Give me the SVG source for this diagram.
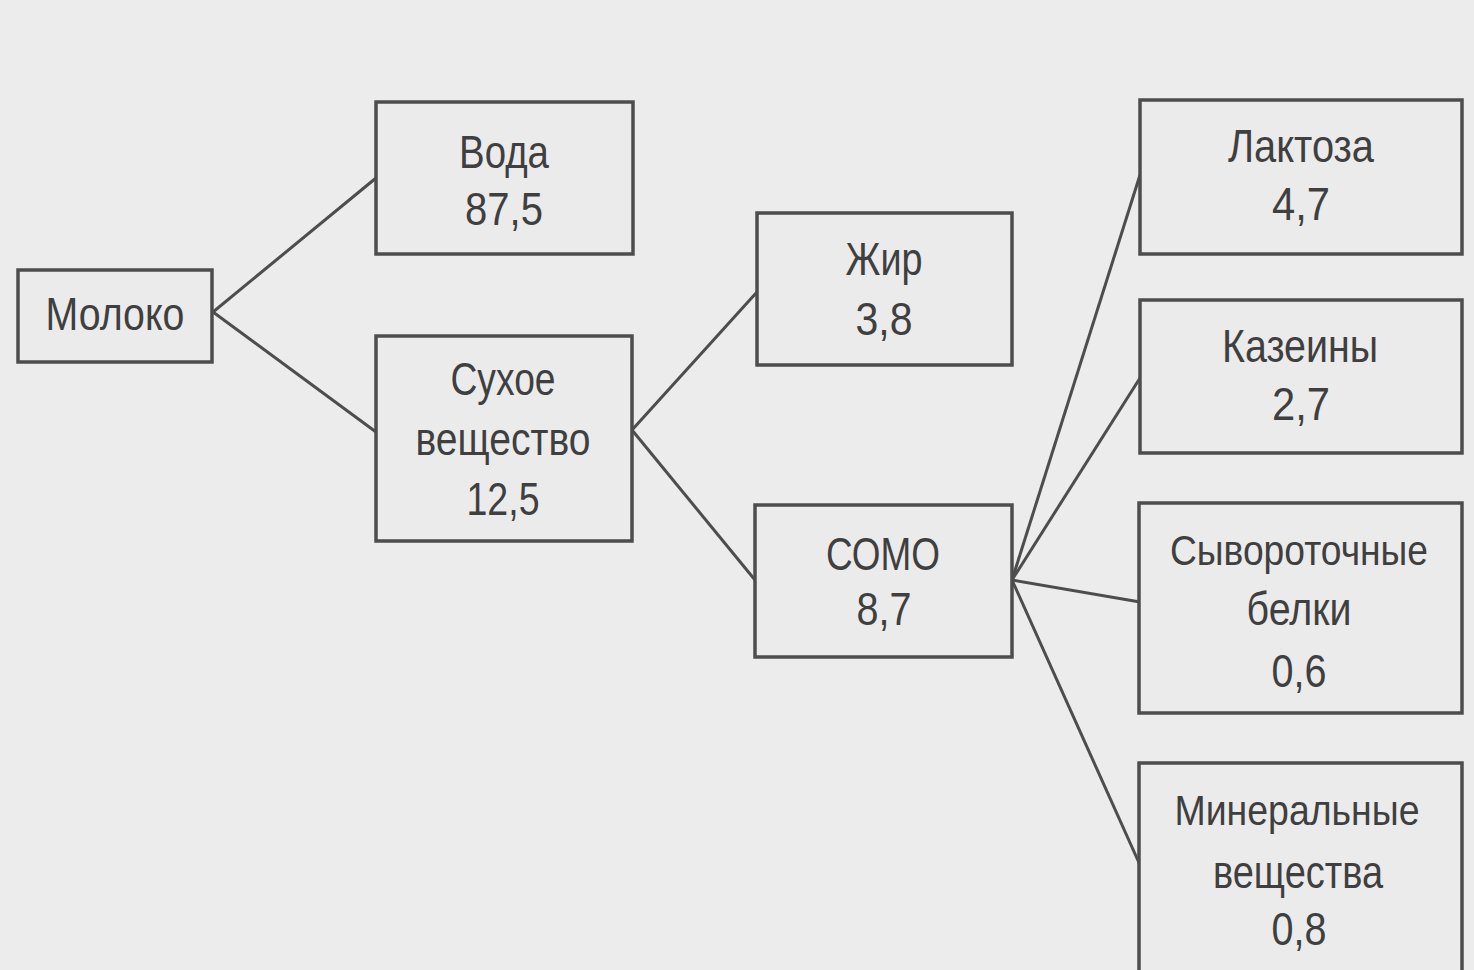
<svg xmlns="http://www.w3.org/2000/svg" width="1474" height="970" viewBox="0 0 1474 970">
<style>
.bg{fill:#ececec}
.box{fill:#ebebeb;stroke:#4d4d4d;stroke-width:3.5}
.lbl{font-family:"Liberation Sans",Arial,sans-serif;font-size:46px;fill:#3f3f3f;text-anchor:middle}
.long{font-size:43px}
.edge{stroke:#4d4d4d;stroke-width:3;fill:none}
</style>
<rect class="bg" x="0" y="0" width="1474" height="970"/>
<g id="connectors">
<line class="edge" x1="213" y1="312" x2="376" y2="178"/>
<line class="edge" x1="213" y1="312" x2="376" y2="432"/>
<line class="edge" x1="632" y1="430" x2="757" y2="292"/>
<line class="edge" x1="632" y1="430" x2="755" y2="580"/>
<line class="edge" x1="1012" y1="580" x2="1140" y2="175"/>
<line class="edge" x1="1012" y1="580" x2="1140" y2="378"/>
<line class="edge" x1="1012" y1="580" x2="1140" y2="602"/>
<line class="edge" x1="1012" y1="580" x2="1140" y2="865"/>
</g>
<g id="moloko">
<rect class="box" x="18" y="270" width="194" height="92"/>
<text class="lbl" x="115" y="330" textLength="139" lengthAdjust="spacingAndGlyphs">Молоко</text>
</g>
<g id="voda">
<rect class="box" x="376" y="102" width="257" height="152"/>
<text class="lbl" x="504" y="168" textLength="90" lengthAdjust="spacingAndGlyphs">Вода</text>
<text class="lbl" x="504" y="225" textLength="78" lengthAdjust="spacingAndGlyphs">87,5</text>
</g>
<g id="sukhoe">
<rect class="box" x="376" y="336" width="256" height="205"/>
<text class="lbl" x="503" y="395" textLength="105" lengthAdjust="spacingAndGlyphs">Сухое</text>
<text class="lbl" x="503" y="455" textLength="175" lengthAdjust="spacingAndGlyphs">вещество</text>
<text class="lbl" x="503" y="515" textLength="73" lengthAdjust="spacingAndGlyphs">12,5</text>
</g>
<g id="zhir">
<rect class="box" x="757" y="213" width="255" height="152"/>
<text class="lbl" x="884" y="275" textLength="77" lengthAdjust="spacingAndGlyphs">Жир</text>
<text class="lbl" x="884" y="335" textLength="57" lengthAdjust="spacingAndGlyphs">3,8</text>
</g>
<g id="somo">
<rect class="box" x="755" y="505" width="257" height="152"/>
<text class="lbl" x="883" y="570" textLength="114" lengthAdjust="spacingAndGlyphs">СОМО</text>
<text class="lbl" x="884" y="625" textLength="55" lengthAdjust="spacingAndGlyphs">8,7</text>
</g>
<g id="laktoza">
<rect class="box" x="1140" y="100" width="322" height="154"/>
<text class="lbl" x="1301" y="162" textLength="146" lengthAdjust="spacingAndGlyphs">Лактоза</text>
<text class="lbl" x="1301" y="220" textLength="58" lengthAdjust="spacingAndGlyphs">4,7</text>
</g>
<g id="kazeiny">
<rect class="box" x="1140" y="300" width="322" height="153"/>
<text class="lbl" x="1300" y="362" textLength="156" lengthAdjust="spacingAndGlyphs">Казеины</text>
<text class="lbl" x="1301" y="420" textLength="58" lengthAdjust="spacingAndGlyphs">2,7</text>
</g>
<g id="syvorotochnye">
<rect class="box" x="1139" y="503" width="323" height="210"/>
<text class="lbl long" x="1299" y="565" textLength="258" lengthAdjust="spacingAndGlyphs">Сывороточные</text>
<text class="lbl" x="1299" y="625" textLength="105" lengthAdjust="spacingAndGlyphs">белки</text>
<text class="lbl" x="1299" y="687" textLength="55" lengthAdjust="spacingAndGlyphs">0,6</text>
</g>
<g id="mineralnye">
<rect class="box" x="1139" y="763" width="323" height="215"/>
<text class="lbl long" x="1297" y="825" textLength="245" lengthAdjust="spacingAndGlyphs">Минеральные</text>
<text class="lbl" x="1298" y="888" textLength="170" lengthAdjust="spacingAndGlyphs">вещества</text>
<text class="lbl" x="1299" y="945" textLength="55" lengthAdjust="spacingAndGlyphs">0,8</text>
</g>
</svg>
